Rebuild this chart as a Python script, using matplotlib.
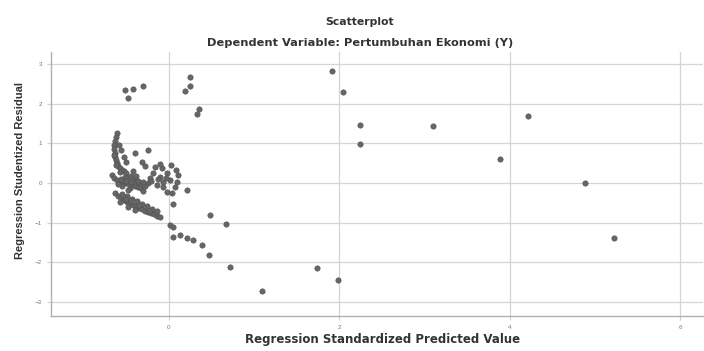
import matplotlib
matplotlib.use("Agg")
import matplotlib.pyplot as plt

plt.rcParams['font.family'] = ['Liberation Sans', 'DejaVu Sans']

# standardized predicted value (x) and studentized residual (y)
pred_arc = [-0.61, -0.62, -0.63, -0.65, -0.65, -0.63, -0.63, -0.62, -0.61, -0.60, -0.58, -0.55, -0.53, -0.50,
            -0.59, -0.56, -0.53, -0.50, -0.64, -0.62, -0.57]
resid_arc = [1.26, 1.16, 1.06, 0.96, 0.86, 0.76, 0.65, 0.58, 0.50, 0.43, 0.38, 0.33, 0.30, 0.25,
             0.96, 0.83, 0.65, 0.53, 0.70, 0.46, 0.28]

pred_mid = [-0.40, -0.25, -0.32, -0.28, -0.16, -0.08, -0.11, -0.02, 0.11, -0.19, -0.11, -0.07, 0.09, 0.07,
            -0.07, -0.02, 0.04, -0.22, -0.25, -0.14, 0.01, 0.08, 0.02,
            -0.67, -0.65, -0.61, -0.58, -0.54, -0.50, -0.47, -0.43, -0.40, -0.36, -0.33, -0.52, -0.48,
            -0.45, -0.41, -0.38, -0.34, -0.46, -0.55, -0.60, -0.39, -0.42, -0.48, -0.31, -0.28,
            -0.56, -0.51, -0.44, -0.36, -0.30, -0.21, -0.13, -0.04]
resid_mid = [0.76, 0.83, 0.53, 0.43, 0.40, 0.38, 0.48, 0.25, 0.20, 0.25, 0.15, 0.03, 0.03, -0.10,
             -0.10, -0.23, -0.25, 0.13, 0.00, -0.05, 0.08, 0.33, 0.45,
             0.20, 0.13, 0.08, 0.05, 0.03, 0.00, -0.03, -0.05, -0.08, -0.10, -0.13, 0.15, 0.13,
             0.18, 0.10, 0.05, 0.00, -0.13, -0.08, -0.03, 0.18, 0.30, -0.18, -0.20, -0.08,
             0.10, 0.06, 0.03, 0.05, 0.03, 0.06, 0.10, 0.12]

pred_low = [-0.63, -0.60, -0.56, -0.53, -0.49, -0.46, -0.42, -0.39, -0.35, -0.32, -0.28, -0.25, -0.21, -0.18,
            -0.14, -0.11, -0.55, -0.49, -0.43, -0.38, -0.32, -0.26, -0.20, -0.14, -0.58, -0.48, -0.40,
            -0.51, -0.45, -0.35, -0.23]
resid_low = [-0.25, -0.33, -0.38, -0.43, -0.48, -0.50, -0.55, -0.58, -0.63, -0.65, -0.71, -0.73, -0.76, -0.78,
             -0.83, -0.86, -0.28, -0.33, -0.40, -0.45, -0.53, -0.58, -0.65, -0.71, -0.48, -0.60, -0.68,
             -0.40, -0.46, -0.56, -0.70]

pred_out = [-0.52, -0.42, -0.48, -0.31, 0.25, 0.25, 0.19, 0.35, 0.33,
            0.21, 0.05, 0.48, 0.67, 0.47, 0.72, 1.09, 1.74, 1.98,
            0.01, 0.05, 0.05, 0.13, 0.21, 0.28, 0.39,
            1.91, 2.04, 2.24, 2.24, 3.10, 4.21, 3.89, 4.88, 5.22]
resid_out = [2.34, 2.37, 2.14, 2.44, 2.67, 2.44, 2.32, 1.86, 1.74,
             -0.18, -0.53, -0.80, -1.03, -1.81, -2.12, -2.72, -2.14, -2.44,
             -1.06, -1.11, -1.36, -1.31, -1.39, -1.44, -1.56,
             2.82, 2.29, 1.46, 0.98, 1.44, 1.69, 0.60, 0.00, -1.39]

x_ticks = [0, 2, 4, 6]
y_ticks = [-3, -2, -1, 0, 1, 2, 3]

x = pred_arc + pred_mid + pred_low + pred_out
y = resid_arc + resid_mid + resid_low + resid_out

fig = plt.figure(figsize=(7.04, 3.51), dpi=100)
ax = fig.add_axes([0.0724, 0.0997, 0.9266, 0.7523])

ax.scatter(x, y, s=15, c='#666666', edgecolors='#505050', linewidths=0.4, zorder=3)

ax.set_xlim(-1.385, 6.27)
ax.set_ylim(-3.35, 3.30)
ax.set_xticks(x_ticks)
ax.set_yticks(y_ticks)
ax.grid(True, color='#d4d4d4', linewidth=0.9)
ax.set_axisbelow(True)
for side in ['top', 'right']:
    ax.spines[side].set_visible(False)
for side in ['left', 'bottom']:
    ax.spines[side].set_color('#b0b0b0')
    ax.spines[side].set_linewidth(1.0)
ax.tick_params(labelsize=4.5, labelcolor='#777777', color='#cfcfcf', length=3, width=0.8)

wide = ['DejaVu Sans']
fig.text(0.511, 0.938, 'Scatterplot', ha='center', va='center', fontsize=7.8, fontweight='bold',
         color='#333333', family=wide)
fig.text(0.511, 0.878, 'Dependent Variable: Pertumbuhan Ekonomi (Y)', ha='center', va='center',
         fontsize=8.2, fontweight='bold', color='#333333', family=wide)
fig.text(0.543, 0.032, 'Regression Standardized Predicted Value', ha='center', va='center',
         fontsize=8.5, fontweight='bold', color='#333333', family=wide)
fig.text(0.028, 0.515, 'Regression Studentized Residual', ha='center', va='center', rotation=90,
         fontsize=8, fontweight='bold', color='#333333')

fig.savefig('out.png', dpi=100)
